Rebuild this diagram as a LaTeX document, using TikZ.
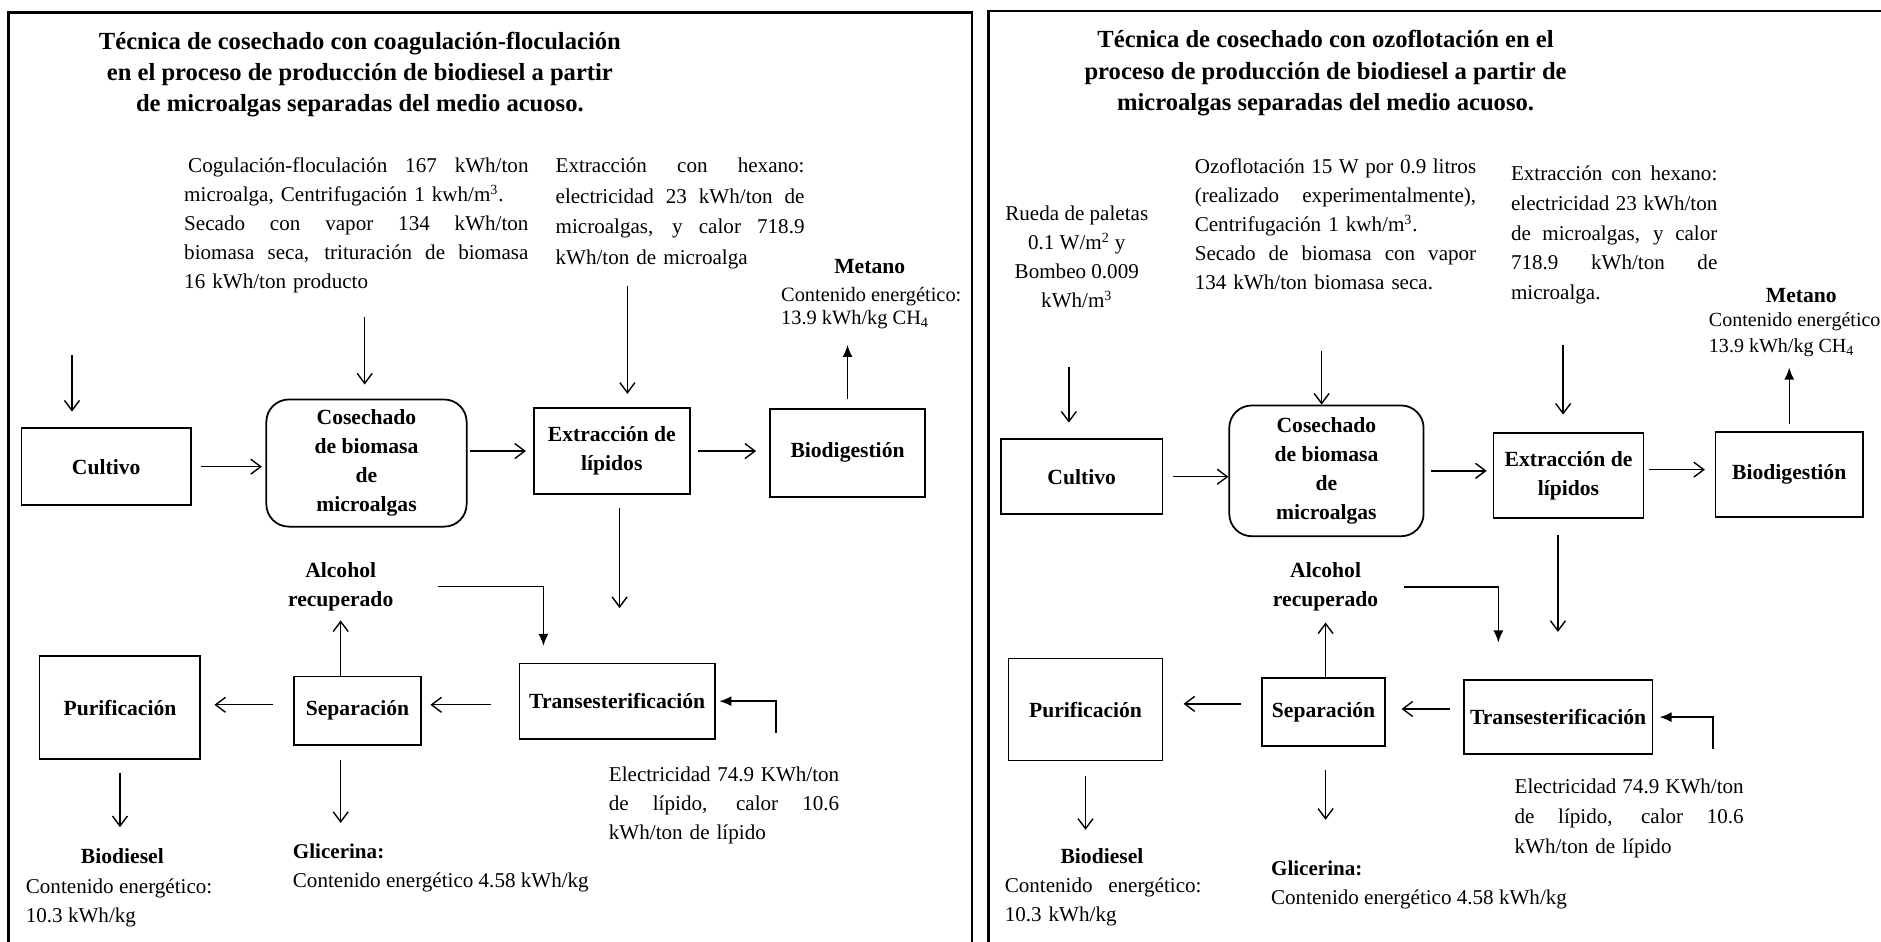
\documentclass[tikz,border=0pt]{standalone}
\usepackage{fontspec}
\setmainfont{Liberation Serif}
\usetikzlibrary{arrows.meta}
\newcommand{\jl}[1]{\makebox[\hsize][s]{\spaceskip=0pt\xspaceskip=0pt #1}}

\begin{document}
\begin{tikzpicture}[x = 0.024cm, y = -0.024cm, line width = 0.8pt,
                        box/.style = {draw, line width = 1pt, inner sep = 0pt, align = center, font = \fontsize{12.3}{16.6}\selectfont\bfseries},
                        rbox/.style = {box, rounded corners = 0.45cm},
                        head/.style = {inner sep = 0pt, align = center, font = \fontsize{12.3}{16.5}\selectfont\bfseries},
                        ttl/.style = {inner sep = 0pt, align = center, font = \fontsize{14}{17.8}\selectfont\bfseries},
                        txt/.style = {inner sep = 0pt, align = left, font = \fontsize{12}{16.5}\selectfont},
                        op/.style = {-{Straight Barb[length = 2mm, width = 3mm]}},
                        sol/.style = {-{Latex[length = 2.4mm, width = 2mm]}}]
    \useasboundingbox (0, 0) rectangle (1568, 785);
    \draw [line width = 1.3pt] (7, 800) -- (7, 10.5) -- (810, 10.5) -- (810, 800);
    \draw [line width = 1.3pt] (824, 800) -- (824, 9) -- (1580, 9);

    \node [ttl] (tit) at (300, 62){Técnica de cosechado con coagulación-floculación\\ en el proceso de producción de biodiesel a partir\\ de microalgas separadas del medio acuoso.};
    \node [txt, text width = 6.888cm, anchor = north west] (hcos) at (153, 131){\jl{\hspace{0.08cm}Cogulación-floculación 167 kWh/ton}\\ microalga, Centrifugación 1 kwh/m\textsuperscript{3}.\\ \jl{Secado con vapor 134 kWh/ton}\\ \jl{biomasa seca, trituración de biomasa}\\ 16 kWh/ton producto};
    \node [txt, text width = 4.98cm, anchor = north west, font = \fontsize{12}{17.5}\selectfont] (hext) at (462.6, 131){\jl{Extracción con hexano:}\\ \jl{electricidad 23 kWh/ton de}\\ \jl{microalgas, y calor 718.9}\\ kWh/ton de microalga};
    \node [head] (met) at (725, 222){Metano};
    \node [txt, anchor = north west, font = \fontsize{11.6}{12.8}\selectfont] (metc) at (650.6, 239){Contenido energético:\\ 13.9 kWh/kg CH\textsubscript{4}};

    \node [box, minimum width = 3.384cm, minimum height = 1.536cm] (cul) at (88.5, 389){Cultivo};
    \node [rbox, minimum width = 4.008cm, minimum height = 2.544cm] (cos) at (305.5, 386){Cosechado\\ de biomasa\\ de\\ microalgas};
    \node [box, minimum width = 3.12cm, minimum height = 1.728cm] (ext) at (510, 376){Extracción de\\ lípidos};
    \node [box, minimum width = 3.096cm, minimum height = 1.752cm] (bio) at (706.5, 377.5){Biodigestión};
    \node [box, minimum width = 3.216cm, minimum height = 2.064cm] (pur) at (100, 590){Purificación};
    \node [box, minimum width = 2.544cm, minimum height = 1.368cm] (sep) at (298, 592.5){Separación};
    \node [box, minimum width = 3.912cm, minimum height = 1.512cm] (tra) at (514.5, 584.5){Transesterificación};
    \node [head] (alc) at (284, 489){Alcohol\\ recuperado};
    \node [txt, text width = 4.608cm, anchor = north west] (ele) at (507, 639){\jl{Electricidad 74.9 KWh/ton}\\ \jl{de lípido, calor 10.6}\\ kWh/ton de lípido};
    \node [head] (bdl) at (102, 714){Biodiesel};
    \node [txt, anchor = north west] (bdc) at (21, 732){Contenido energético:\\ 10.3 kWh/kg};
    \node [txt, anchor = north west] (gli) at (243.6, 703){\textbf{Glicerina:}\\ Contenido energético 4.58 kWh/kg};

    \coordinate (icul) at (60, 296);
    \coordinate (icos) at (304, 264);
    \coordinate (iext) at (523, 238);
    \coordinate (itra) at (647, 611);
    \draw [op, shorten >= 9pt] (icul) -- (icul |- cul.north);
    \draw [op, shorten >= 8pt] (icos) -- (icos |- cos.north);
    \draw [op, shorten >= 7.5pt] (iext) -- (iext |- ext.north);
    \draw [op, shorten <= 5.5pt, shorten >= 2pt] (cul.east) -- (cul.east -| cos.west);
    \draw [op, shorten <= 1.4pt, shorten >= 4pt] (cos.east |- ext) -- (ext.west);
    \draw [op, shorten <= 4pt, shorten >= 7.5pt] (ext.east) -- (ext.east -| bio.west);
    \draw [sol, shorten <= 5pt, shorten >= 9pt] (bio.north) -- (bio.north |- metc.south);
    \draw [op, shorten <= 7.5pt, shorten >= 31pt] ([xshift = 0.156cm]ext.south) -- ([xshift = 0.156cm]ext.south |- tra.north);
    \draw [sol, shorten <= 25pt, shorten >= 9.5pt] (alc.east) -| ([xshift = -1.476cm]tra.north);
    \draw [op, shorten >= 5pt] (sep.north -| alc) -- (alc.south);
    \draw [op, shorten <= 15.7pt, shorten >= 4.8pt] ([yshift = -0.072cm]tra.west) -- ([yshift = -0.072cm]tra.west -| sep.east);
    \draw [op, shorten <= 11.3pt, shorten >= 7.5pt] ([yshift = 0.12cm]sep.west) -- ([yshift = 0.12cm]sep.west -| pur.east);
    \draw [sol, shorten >= 2pt] (itra) |- (tra.east);
    \draw [op, shorten <= 7pt, shorten >= 12pt] (pur.south) -- (pur.south |- bdl.north);
    \draw [op, shorten <= 8pt, shorten >= 11.6pt] (sep.south -| alc) -- (alc |- gli.north);

    \node [ttl] (tit2) at (1105, 61){Técnica de cosechado con ozoflotación en el\\ proceso de producción de biodiesel a partir de\\ microalgas separadas del medio acuoso.};
    \node [txt, align = center] (rue) at (897.6, 214.5){Rueda de paletas\\ 0.1 W/m\textsuperscript{2} y\\ Bombeo 0.009\\ kWh/m\textsuperscript{3}};
    \node [txt, text width = 5.63cm, anchor = north west] (hozo) at (995.4, 132){\jl{Ozoflotación 15 W por 0.9 litros}\\ \jl{(realizado experimentalmente),}\\ Centrifugación 1 kwh/m\textsuperscript{3}.\\ \jl{Secado de biomasa con vapor}\\ 134 kWh/ton biomasa seca.};
    \node [txt, text width = 4.128cm, anchor = north west, font = \fontsize{12}{17}\selectfont] (hext2) at (1259, 137.5){\jl{Extracción con hexano:}\\ \jl{electricidad 23 kWh/ton}\\ \jl{de microalgas, y calor}\\ \jl{718.9 kWh/ton de}\\ microalga.};
    \node [head] (met2) at (1501.6, 246){Metano};
    \node [txt, anchor = north west, font = \fontsize{11.4}{15}\selectfont] (metc2) at (1424, 260){Contenido energético\\ 13.9 kWh/kg CH\textsubscript{4}};

    \node [box, minimum width = 3.23cm, minimum height = 1.505cm] (cul2) at (901.7, 397.4){Cultivo};
    \node [rbox, minimum width = 3.888cm, minimum height = 2.616cm] (cos2) at (1105.7, 392.5){Cosechado\\ de biomasa\\ de\\ microalgas};
    \node [box, minimum width = 3cm, minimum height = 1.704cm] (ext2) at (1307.5, 396.5){Extracción de\\ lípidos};
    \node [box, minimum width = 2.952cm, minimum height = 1.704cm] (bio2) at (1491.5, 395.5){Biodigestión};
    \node [box, minimum width = 3.079cm, minimum height = 2.04cm] (pur2) at (904.9, 591.5){Purificación};
    \node [box, minimum width = 2.46cm, minimum height = 1.361cm] (sep2) at (1103.3, 593.4){Separación};
    \node [box, minimum width = 3.78cm, minimum height = 1.476cm] (tra2) at (1298.8, 597.8){Transesterificación};
    \node [head] (alc2) at (1105, 489.3){Alcohol\\ recuperado};
    \node [txt, text width = 4.584cm, anchor = north west, font = \fontsize{12}{17}\selectfont] (ele2) at (1262, 648.6){\jl{Electricidad 74.9 KWh/ton}\\ \jl{de lípido, calor 10.6}\\ kWh/ton de lípido};
    \node [head] (bdl2) at (918.6, 713.3){Biodiesel};
    \node [txt, text width = 3.936cm, anchor = north west] (bdc2) at (837, 731){\jl{Contenido energético:}\\ 10.3 kWh/kg};
    \node [txt, anchor = north west] (gli2) at (1059, 717){\textbf{Glicerina:}\\ Contenido energético 4.58 kWh/kg};

    \coordinate (icul2) at (891, 305.6);
    \coordinate (icos2) at (1101.7, 293);
    \coordinate (iext2) at (1303, 287.5);
    \coordinate (itra2) at (1428, 624);
    \draw [op, shorten >= 8.9pt] (icul2) -- (icul2 |- cul2.north);
    \draw [op] (icos2) -- (icos2 |- cos2.north);
    \draw [op, shorten >= 10pt] (iext2) -- (iext2 |- ext2.north);
    \draw [op, shorten <= 5.8pt] (cul2.east) -- (cul2.east -| cos2.west);
    \draw [op, shorten <= 3.6pt, shorten >= 3.4pt] (cos2.east) -- (cos2.east -| ext2.west);
    \draw [op, shorten <= 2.7pt, shorten >= 5.5pt] ([yshift = 0.12cm]ext2.east) -- ([yshift = 0.12cm]ext2.east -| bio2.west);
    \draw [sol, shorten <= 4pt, shorten >= 5.5pt] (bio2.north) -- (bio2.north |- metc2.south);
    \draw [op, shorten <= 8.9pt, shorten >= 27pt] ([xshift = -0.211cm]ext2.south) -- ([xshift = -0.211cm]ext2.south |- tra2.north);
    \draw [sol, shorten <= 14.3pt, shorten >= 21pt] (alc2.east) -| ([xshift = -1.195cm]tra2.north);
    \draw [op, shorten >= 6pt] (sep2.north -| alc2) -- (alc2.south);
    \draw [op, shorten <= 7pt, shorten >= 8.9pt] ([yshift = 0.163cm]tra2.west) -- ([yshift = 0.163cm]tra2.west -| sep2.east);
    \draw [op, shorten <= 11.6pt, shorten >= 11.5pt] ([yshift = 0.16cm]sep2.west) -- ([yshift = 0.16cm]sep2.west -| pur2.east);
    \draw [sol, shorten >= 3.5pt] (itra2) |- (tra2.east);
    \draw [op, shorten <= 8.2pt, shorten >= 10pt] (pur2.south) -- (pur2.south |- bdl2.north);
    \draw [op, shorten <= 13pt, shorten >= 23pt] (sep2.south -| alc2) -- (alc2 |- gli2.north);
  \end{tikzpicture}
\end{document}
